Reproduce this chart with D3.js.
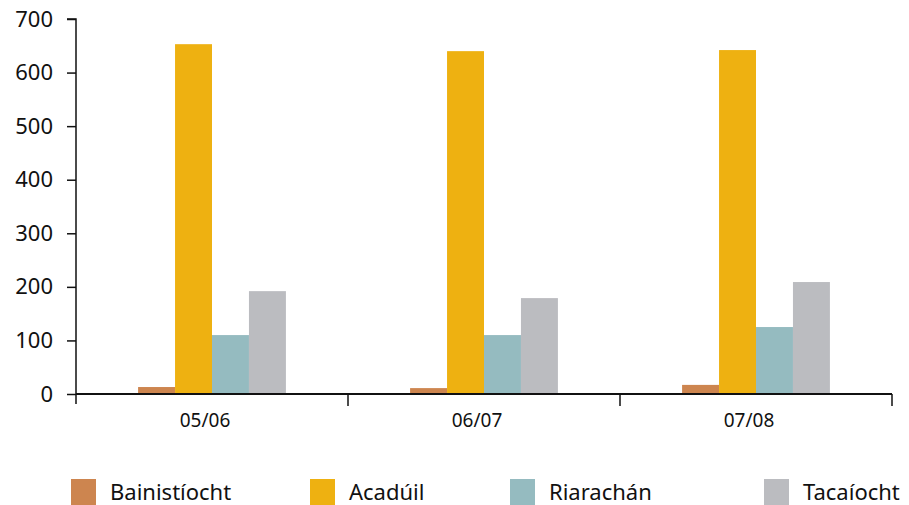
<!DOCTYPE html>
<html>
<head>
<meta charset="utf-8">
<script src="https://cdn.jsdelivr.net/npm/d3@7"></script>
<style>
  body { margin: 0; background: #fff; }
  svg { font-family: "Noto Sans", sans-serif; }
</style>
</head>
<body>
<svg id="chart" width="909" height="505"></svg>
<script>
var years = ["05/06", "06/07", "07/08"];
var series = ["Bainistíocht", "Acadúil", "Riarachán", "Tacaíocht"];
var bainistiocht = [13, 11, 17];
var acaduil = [653, 640, 642];
var riarachan = [110, 110, 125];
var tacaiocht = [192, 179, 209];
var yTicks = [0, 100, 200, 300, 400, 500, 600, 700];
var colours = ["#cd854f", "#eeb111", "#95bbc0", "#bbbcc0"];

var values = [bainistiocht, acaduil, riarachan, tacaiocht];

var svg = d3.select("#chart"),
    plotLeft = 76,
    plotRight = 892,
    plotTop = 19,
    plotBottom = 394;

var x = d3.scaleBand().domain(years).range([plotLeft, plotRight]);
var inner = d3.scaleBand().domain(series).range([0, x.bandwidth()]).paddingOuter(1.68);
var y = d3.scaleLinear().domain([0, 700]).range([plotBottom, plotTop]);

// bars
years.forEach(function(yr, i){
    svg.append("g")
        .selectAll("rect")
        .data(series)
        .enter().append("rect")
        .attr("x", function(s){ return x(yr) + inner(s); })
        .attr("width", inner.bandwidth())
        .attr("y", function(s, j){ return y(values[j][i]); })
        .attr("height", function(s, j){ return plotBottom - y(values[j][i]); })
        .attr("fill", function(s, j){ return colours[j]; });
});

// y axis
var yAxis = svg.append("g")
    .attr("transform", "translate(" + plotLeft + ",0)")
    .call(d3.axisLeft(y).tickValues(yTicks).tickSize(9).tickPadding(14));
yAxis.select(".domain").attr("d", "M-9," + plotTop + "H0V" + (plotBottom + 10));
yAxis.selectAll("text").attr("font-size", 22).attr("fill", "#111")
    .attr("font-family", "Noto Sans");
yAxis.selectAll("line, path").attr("stroke", "#111").attr("stroke-width", 1.5);

// x axis line and separators
svg.append("line")
    .attr("x1", plotLeft).attr("x2", plotRight)
    .attr("y1", plotBottom).attr("y2", plotBottom)
    .attr("stroke", "#111").attr("stroke-width", 2);
svg.append("g").selectAll("line")
    .data(years.slice(1).concat(["end"]))
    .enter().append("line")
    .attr("x1", function(d){ return d === "end" ? plotRight : x(d); })
    .attr("x2", function(d){ return d === "end" ? plotRight : x(d); })
    .attr("y1", plotBottom).attr("y2", plotBottom + 12)
    .attr("stroke", "#111").attr("stroke-width", 1.5);

svg.append("g").selectAll("text")
    .data(years)
    .enter().append("text")
    .attr("x", function(d){ return x(d) + x.bandwidth() / 2 - 7; })
    .attr("y", 427)
    .attr("text-anchor", "middle")
    .attr("font-size", 19)
    .attr("fill", "#111")
    .text(function(d){ return d; });

// legend
var legendX = [71, 310, 510, 764];
var legend = svg.append("g").selectAll("g")
    .data(series)
    .enter().append("g")
    .attr("transform", function(d, i){ return "translate(" + legendX[i] + ",479)"; });
legend.append("rect")
    .attr("width", 25).attr("height", 26)
    .attr("fill", function(d, i){ return colours[i]; });
legend.append("text")
    .attr("x", 39).attr("y", 21)
    .attr("font-size", 22)
    .attr("fill", "#111")
    .text(function(d){ return d; });
</script>
</body>
</html>
